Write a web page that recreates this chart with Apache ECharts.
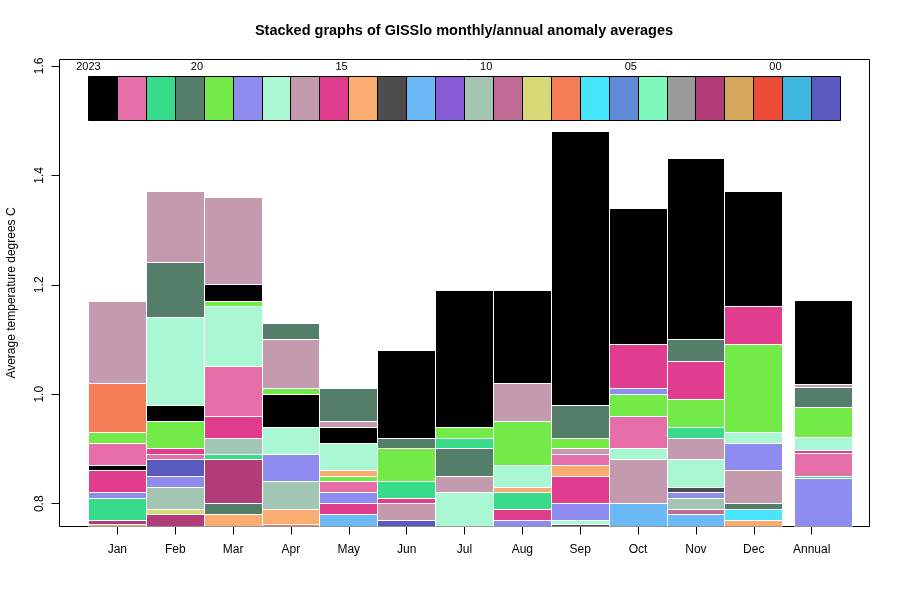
<!DOCTYPE html>
<html>
<head>
<meta charset="utf-8">
<script src="https://cdn.jsdelivr.net/npm/echarts@6/dist/echarts.min.js"></script>
<style>html,body{margin:0;padding:0;background:#fff;}#chart{width:900px;height:600px;}</style>
</head>
<body>
<div id="chart"></div>
<script>
// ---- data ----
const years = [2023,2022,2021,2020,2019,2018,2017,2016,2015,2014,2013,2012,2011,2010,2009,2008,2007,2006,2005,2004,2003,2002,2001,2000,1999,1998];
const yearColors = ['#000000','#E76FA9','#38DB89','#547E6A','#72EA48','#8E8DEF','#A9F8D3','#C49BAE','#E03D8F','#FBAC71','#4D4D4D','#6BB9F5','#875CD6','#A3C6B4','#BF6B95','#D8D977','#F57D57','#47E6FC','#618AD8','#7FF8BC','#9A9A9A','#B23C77','#D3A85C','#EC4C37','#3FB7E0','#5A59BE'];
const columnNames = ['Jan','Feb','Mar','Apr','May','Jun','Jul','Aug','Sep','Oct','Nov','Dec','Annual'];
const legendLabels = ['2023','20','15','10','05','00'];
const legendLabelYears = [2023,2020,2015,2010,2005,2000];
const yTickValues = [0.8,1.0,1.2,1.4,1.6];

// visible anomaly values per column: [year, value]
const jan = [[2016,1.17],[2007,1.02],[2019,0.93],[2022,0.91],[2023,0.87],[2015,0.86],[2018,0.82],[2021,0.81],[2002,0.77],[2014,0.762]];
const feb = [[2016,1.37],[2020,1.24],[2017,1.14],[2023,0.98],[2019,0.95],[2015,0.90],[2022,0.89],[1998,0.88],[2018,0.85],[2010,0.83],[2008,0.79],[2002,0.78]];
const mar = [[2016,1.36],[2023,1.20],[2019,1.17],[2017,1.16],[2022,1.05],[2015,0.96],[2010,0.92],[2021,0.89],[2002,0.88],[2020,0.80],[2014,0.78]];
const apr = [[2020,1.13],[2016,1.10],[2019,1.01],[2023,1.00],[2017,0.94],[2018,0.89],[2010,0.84],[2014,0.79],[2007,0.762]];
const may = [[2020,1.01],[2016,0.95],[2023,0.94],[2017,0.91],[2014,0.86],[2019,0.85],[2022,0.84],[2018,0.82],[2015,0.80],[2012,0.78]];
const jun = [[2023,1.08],[2020,0.92],[2019,0.90],[2021,0.84],[2015,0.81],[2016,0.80],[1998,0.77]];
const jul = [[2023,1.19],[2019,0.94],[2021,0.92],[2020,0.90],[2016,0.85],[2017,0.82]];
const aug = [[2023,1.19],[2016,1.02],[2019,0.95],[2017,0.87],[2014,0.83],[2021,0.82],[2015,0.79],[2018,0.77]];
const sep = [[2023,1.48],[2020,0.98],[2019,0.92],[2016,0.90],[2022,0.89],[2014,0.87],[2015,0.85],[2018,0.80],[2017,0.77],[2013,0.762]];
const oct = [[2023,1.34],[2015,1.09],[2018,1.01],[2019,1.00],[2022,0.96],[2017,0.90],[2016,0.88],[2012,0.80]];
const nov = [[2023,1.43],[2020,1.10],[2015,1.06],[2019,0.99],[2021,0.94],[2016,0.92],[2017,0.88],[2013,0.83],[2018,0.82],[2010,0.81],[2009,0.79],[2012,0.78]];
const dec = [[2023,1.37],[2015,1.16],[2019,1.09],[2017,0.93],[2018,0.91],[2016,0.86],[2020,0.80],[2006,0.79],[2014,0.77]];
const annual = [[2023,1.171],[2016,1.017],[2020,1.013],[2019,0.976],[2017,0.921],[2015,0.897],[2022,0.891],[2021,0.850],[2018,0.846]];

// ---- build ----
const columns = [jan,feb,mar,apr,may,jun,jul,aug,sep,oct,nov,dec,annual];
const Y_MIN = 0.7584, Y_MAX = 1.6116;
const LEG_BOTTOM = 1.50, LEG_TOP = 1.58, LEG_TEXT = 1.598;
function colorOf(yr){ return yearColors[years.indexOf(yr)]; }
function colX(i){ return i < 12 ? i + 1 : 13.2; }

const rects = [];
columns.forEach((col, ci) => {
  const sorted = col.slice().sort((a, b) => a[1] - b[1]);
  let prev = Y_MIN;
  sorted.forEach(([yr, v]) => { rects.push([colX(ci), prev, v, yr]); prev = v; });
});
const legendRects = years.map((yr, i) => [0.5 + i * 0.5, LEG_BOTTOM, LEG_TOP, yr]);
const legendText = legendLabels.map((t, i) => {
  const k = years.indexOf(legendLabelYears[i]);
  return [0.5 + k * 0.5 + (k === 0 ? 0 : 0.375), LEG_TEXT, t];
});

function snap(v){ return Math.round(v - 0.5) + 0.5; }
function rectItem(api, xl, xr, yb, yt, fill, stroke){
  const a = api.coord([xl, yt]), b = api.coord([xr, yb]);
  const x0 = snap(a[0]), x1 = snap(b[0]), y0 = snap(a[1]), y1 = snap(b[1]);
  return {type:'rect', shape:{x:x0, y:y0, width:x1 - x0, height:y1 - y0}, style:{fill:fill, stroke:stroke, lineWidth:1}};
}

const FONT = '"Liberation Sans", Arial, sans-serif';
const chart = echarts.init(document.getElementById('chart'), null, {renderer:'canvas'});
chart.setOption({
  animation:false,
  backgroundColor:'#ffffff',
  graphic:[{type:'text', x:464, y:31, style:{text:'Stacked graphs of GISSlo monthly/annual anomaly averages', font:'bold 14.5px ' + FONT, fill:'#000', textAlign:'center', textVerticalAlign:'middle'}}],
  grid:{left:59.5, top:59.5, width:810, height:467, show:true, borderColor:'#000', borderWidth:1, backgroundColor:'transparent', containLabel:false, outerBoundsMode:'none'},
  xAxis:{type:'value', min:0, max:14, splitLine:{show:false}, axisLine:{show:false},
    axisTick:{show:true, length:8, lineStyle:{color:'#000'}, customValues:[1,2,3,4,5,6,7,8,9,10,11,12,13]},
    axisLabel:{show:true, margin:17, color:'#000', fontSize:12, fontFamily:FONT, customValues:[1,2,3,4,5,6,7,8,9,10,11,12,13], formatter:v => columnNames[Math.round(v) - 1]}},
  yAxis:{type:'value', min:Y_MIN, max:Y_MAX, splitLine:{show:false}, axisLine:{show:false},
    name:'Average temperature degrees C', nameLocation:'middle', nameRotate:90, nameGap:42,
    nameTextStyle:{color:'#000', fontSize:12, fontFamily:FONT},
    axisTick:{show:true, length:8, lineStyle:{color:'#000'}, customValues:yTickValues},
    axisLabel:{show:true, rotate:90, margin:14, color:'#000', fontSize:12, fontFamily:FONT, customValues:yTickValues, formatter:v => v.toFixed(1)}},
  series:[
    {type:'custom', data:rects, encode:{x:0, y:[1,2]}, clip:true,
      renderItem:(params, api) => rectItem(api, api.value(0) - 0.5, api.value(0) + 0.5, api.value(1), api.value(2), colorOf(api.value(3)), '#ffffff')},
    {type:'custom', data:legendRects, encode:{x:0, y:[1,2]},
      renderItem:(params, api) => rectItem(api, api.value(0), api.value(0) + 0.5, api.value(1), api.value(2), colorOf(api.value(3)), '#000000')},
    {type:'custom', data:legendText, encode:{x:0, y:1},
      renderItem:(params, api) => {
        const p = api.coord([api.value(0), api.value(1)]);
        return {type:'text', x:p[0], y:p[1], style:{text:legendText[params.dataIndex][2], font:'11px ' + FONT, fill:'#000', textAlign:'center', textVerticalAlign:'middle'}};
      }}
  ]
});
</script>
</body>
</html>
